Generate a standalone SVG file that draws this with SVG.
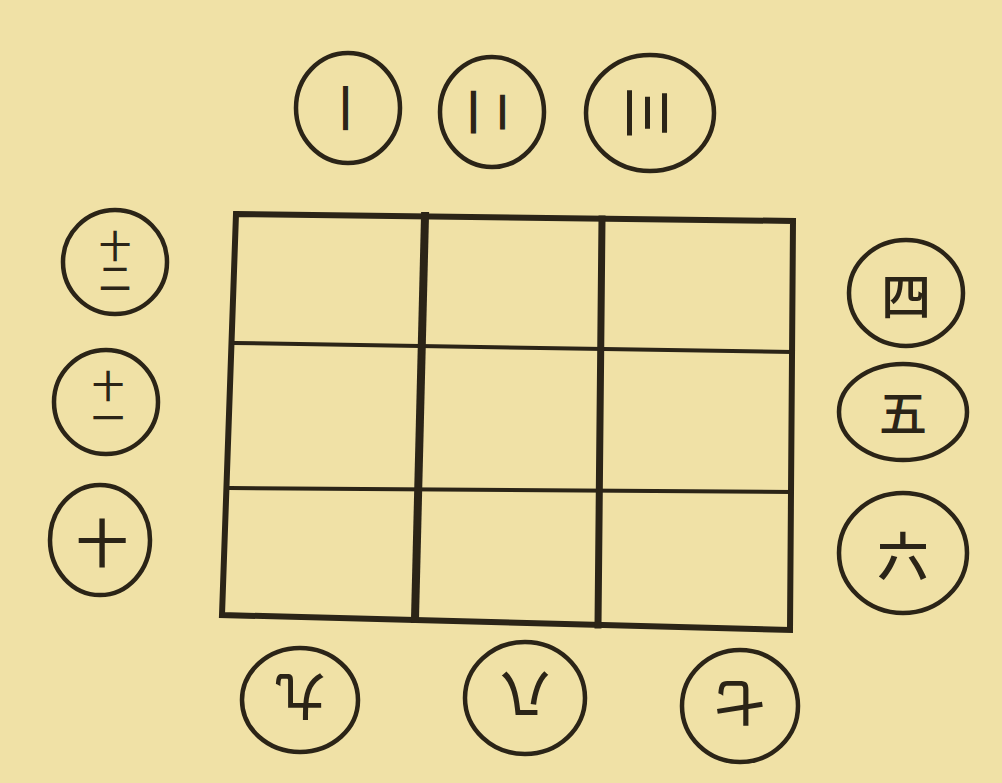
<svg xmlns="http://www.w3.org/2000/svg" width="1002" height="783" viewBox="0 0 1002 783">
<style>
.ring{fill:none;stroke:#2b2417;stroke-width:4.5}
.ch{font-family:"Noto Sans CJK JP","Noto Sans CJK SC",sans-serif;fill:#2b2417;text-anchor:middle;dominant-baseline:central;font-weight:500}
.vt{font-family:"Noto Sans CJK JP","Noto Sans CJK SC",sans-serif;fill:#2b2417;text-anchor:middle;writing-mode:vertical-rl;font-weight:500;font-size:32px}
.grid{fill:none;stroke:#2b2417;stroke-linecap:square}
</style>
<rect width="1002" height="783" fill="#f0e1a6"/>
<g id="grid">
<path class="grid" stroke-width="6" d="M236,214 L793,221 L790,630 L222,615 Z"/>
<path class="grid" stroke-width="4" d="M235,343 L793,352 M230,488 L791,492"/>
<path class="grid" stroke-width="8" d="M425,216 L415,619"/>
<path class="grid" stroke-width="7" d="M602,219 L598,625"/>
</g>
<g id="n1"><ellipse class="ring" cx="348" cy="108" rx="52" ry="55"/><text class="ch" x="348" y="108" font-size="48" transform="rotate(90 348 108)">一</text></g>
<g id="n2"><ellipse class="ring" cx="492" cy="112" rx="52" ry="55"/><text class="ch" x="492" y="112" font-size="48" transform="rotate(90 492 112)">二</text></g>
<g id="n3"><ellipse class="ring" cx="650" cy="113" rx="64" ry="58"/><text class="ch" x="650" y="113" font-size="52" transform="rotate(90 650 113)">三</text></g>
<g id="n4"><ellipse class="ring" cx="906" cy="293" rx="57" ry="53"/><text class="ch" x="906" y="293" font-size="50">四</text></g>
<g id="n5"><ellipse class="ring" cx="903" cy="412" rx="64" ry="48"/><text class="ch" x="903" y="410" font-size="48">五</text></g>
<g id="n6"><ellipse class="ring" cx="903" cy="553" rx="64" ry="60"/><text class="ch" x="903" y="553" font-size="52">六</text></g>
<g id="n7"><ellipse class="ring" cx="740" cy="706" rx="58" ry="56"/><text class="ch" x="740" y="706" font-size="50" transform="rotate(180 740 706)">七</text></g>
<g id="n8"><ellipse class="ring" cx="525" cy="698" rx="60" ry="56"/><text class="ch" x="525" y="698" font-size="50" transform="rotate(180 525 698)">八</text></g>
<g id="n9"><ellipse class="ring" cx="300" cy="700" rx="58" ry="52"/><text class="ch" x="300" y="700" font-size="50" transform="rotate(180 300 700)">九</text></g>
<g id="n10"><ellipse class="ring" cx="100" cy="540" rx="50" ry="55"/><text class="ch" x="102" y="540" font-size="52">十</text></g>
<g id="n11"><ellipse class="ring" cx="106" cy="402" rx="52" ry="52"/><text class="vt" x="108" y="402">十一</text></g>
<g id="n12"><ellipse class="ring" cx="115" cy="262" rx="52" ry="52"/><text class="vt" x="115" y="262">十二</text></g>
</svg>
